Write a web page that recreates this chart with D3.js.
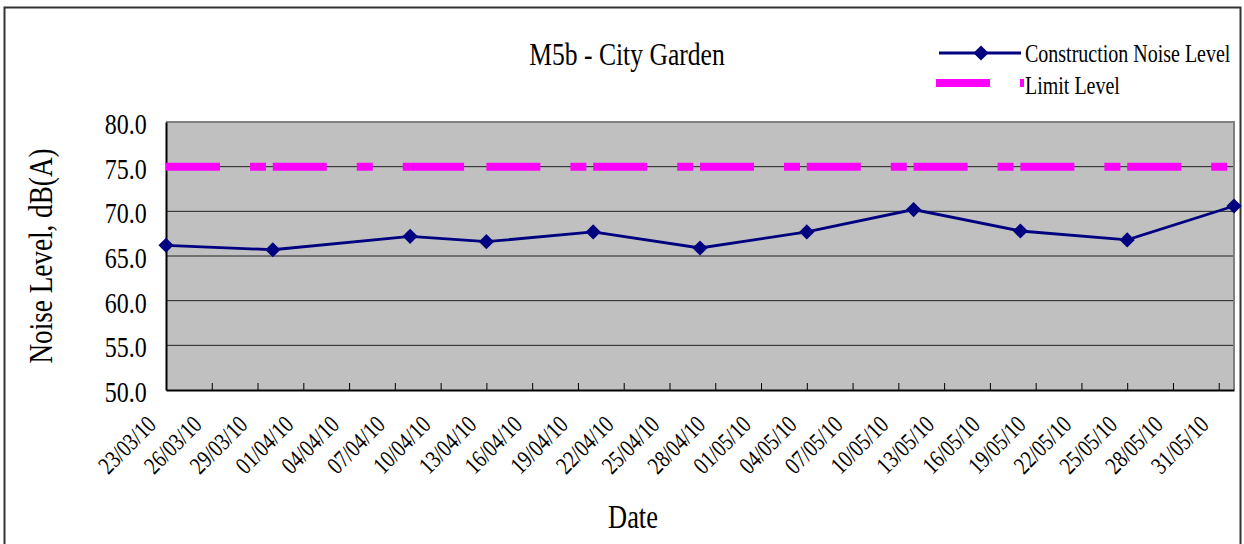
<!DOCTYPE html>
<html>
<head>
<meta charset="utf-8">
<script src="https://cdn.jsdelivr.net/npm/d3@7"></script>
<style>
  body { margin: 0; background: #fff; }
  text { font-family: "Liberation Serif", "DejaVu Serif", serif; fill: #000; }
</style>
</head>
<body>
<div id="chart"></div>
<script>
const dates = ["23/03/10", "30/03/10", "08/04/10", "13/04/10", "20/04/10", "27/04/10",
               "04/05/10", "11/05/10", "18/05/10", "25/05/10", "01/06/10"]
const noiseLevels = [66.2, 65.7, 67.2, 66.6, 67.7, 65.9, 67.7, 70.2, 67.8, 66.8, 70.6]
const limitLevels = [75, 75, 75, 75, 75, 75, 75, 75, 75, 75, 75]
const tickLabels = ["23/03/10", "26/03/10", "29/03/10", "01/04/10", "04/04/10", "07/04/10",
                    "10/04/10", "13/04/10", "16/04/10", "19/04/10", "22/04/10", "25/04/10",
                    "28/04/10", "01/05/10", "04/05/10", "07/05/10", "10/05/10", "13/05/10",
                    "16/05/10", "19/05/10", "22/05/10", "25/05/10", "28/05/10", "31/05/10"]
const yTicks = [50, 55, 60, 65, 70, 75, 80]
const seriesNames = ["Construction Noise Level", "Limit Level"]
const title = "M5b - City Garden"

const MARGIN = { TOP: 122, BOTTOM: 154, LEFT: 166, RIGHT: 10 }
const W = 1244, H = 544
const WIDTH = W - MARGIN.LEFT - MARGIN.RIGHT
const HEIGHT = H - MARGIN.TOP - MARGIN.BOTTOM
const SQUEEZE = "scale(0.8,1)"   // the original font is tall and narrow
const NAVY = "#000080", PINK = "#ff00ff"
const DASH = "54,30,16,30"

const parse = d3.timeParse("%d/%m/%y")
const fmt = d3.timeFormat("%d/%m/%y")

const svg = d3.select("#chart").append("svg")
    .attr("width", W)
    .attr("height", H)

svg.append("rect")
    .attr("x", 4.5).attr("y", 7.5)
    .attr("width", 1236).attr("height", 560)
    .attr("fill", "#fff")
    .attr("stroke", "#333")
    .attr("stroke-width", 2)

const g = svg.append("g")
    .attr("transform", `translate(${MARGIN.LEFT}, ${MARGIN.TOP})`)

const x = d3.scaleTime()
    .domain(d3.extent(dates, parse))
    .range([0, WIDTH])

const y = d3.scaleLinear()
    .domain([50, 80])
    .range([HEIGHT, 0])

// plot background
g.append("rect")
    .attr("width", WIDTH)
    .attr("height", HEIGHT)
    .attr("fill", "#c0c0c0")

// grid lines
g.append("g")
    .selectAll("line")
    .data(yTicks.slice(1, -1))
    .join("line")
      .attr("x1", 0).attr("x2", WIDTH)
      .attr("y1", d => y(d)).attr("y2", d => y(d))
      .attr("stroke", "#222")
      .attr("stroke-width", 1)

// top / right frame
g.append("path")
    .attr("d", `M0,0H${WIDTH}V${HEIGHT}`)
    .attr("fill", "none")
    .attr("stroke", "#808080")
    .attr("stroke-width", 2)

// y axis
const yAxis = g.append("g")
    .call(d3.axisLeft(y).tickValues(yTicks).tickFormat(d3.format(".1f")).tickSize(0))
yAxis.select(".domain").attr("stroke", "#000").attr("stroke-width", 2)
yAxis.selectAll("text")
    .attr("x", -24)
    .attr("dy", "0.38em")
    .attr("transform", SQUEEZE)
    .attr("font-size", 30)

// x axis
const xAxis = g.append("g")
    .attr("transform", `translate(0, ${HEIGHT})`)
    .call(d3.axisBottom(x)
        .tickValues(tickLabels.map(parse))
        .tickFormat(fmt)
        .tickSizeInner(-7)
        .tickSizeOuter(0))
xAxis.select(".domain").attr("stroke", "#000").attr("stroke-width", 2)
xAxis.selectAll(".tick line").attr("stroke", "#000")
xAxis.selectAll("text")
    .attr("x", 0).attr("y", 0)
    .attr("dy", 0)
    .attr("text-anchor", "end")
    .attr("transform", `translate(-9, 36) rotate(-45) ${SQUEEZE}`)
    .attr("font-size", 24.5)

// limit level, dash pattern restarts at every point like the original
const limitPts = dates.map((d, i) => [x(parse(d)), y(limitLevels[i])])
g.append("g")
    .selectAll("path")
    .data(d3.pairs(limitPts))
    .join("path")
      .attr("d", d => d3.line()(d))
      .attr("stroke", PINK)
      .attr("stroke-width", 8)
      .attr("stroke-dasharray", DASH)
      .attr("fill", "none")

// noise series
const line = d3.line()
    .x((d, i) => x(parse(dates[i])))
    .y(d => y(d))

g.append("path")
    .datum(noiseLevels)
    .attr("d", line)
    .attr("fill", "none")
    .attr("stroke", NAVY)
    .attr("stroke-width", 2.8)

const diamond = d3.symbol(d3.symbolSquare, 115)
g.append("g")
    .selectAll("path")
    .data(noiseLevels)
    .join("path")
      .attr("d", diamond)
      .attr("transform", (d, i) => `translate(${x(parse(dates[i]))}, ${y(d)}) rotate(45)`)
      .attr("fill", NAVY)

// titles
svg.append("text")
    .attr("transform", `translate(627, 65) ${SQUEEZE}`)
    .attr("text-anchor", "middle")
    .attr("font-size", 32)
    .text(title)

svg.append("text")
    .attr("transform", `translate(52, 256) rotate(-90) ${SQUEEZE}`)
    .attr("text-anchor", "middle")
    .attr("font-size", 34)
    .text("Noise Level, dB(A)")

svg.append("text")
    .attr("transform", `translate(633, 528) ${SQUEEZE}`)
    .attr("text-anchor", "middle")
    .attr("font-size", 33)
    .text("Date")

// legend
const legend = svg.append("g")
legend.append("line")
    .attr("x1", 939).attr("x2", 1021)
    .attr("y1", 53).attr("y2", 53)
    .attr("stroke", NAVY)
    .attr("stroke-width", 2.8)
legend.append("path")
    .attr("d", diamond)
    .attr("transform", "translate(981, 53) rotate(45)")
    .attr("fill", NAVY)
legend.append("line")
    .attr("x1", 936).attr("x2", 1024)
    .attr("y1", 83).attr("y2", 83)
    .attr("stroke", PINK)
    .attr("stroke-width", 8)
    .attr("stroke-dasharray", DASH)
legend.selectAll("text")
    .data(seriesNames)
    .join("text")
      .attr("transform", (d, i) => `translate(1025, ${62 + i * 32}) ${SQUEEZE}`)
      .attr("font-size", 25)
      .text(d => d)
</script>
</body>
</html>
